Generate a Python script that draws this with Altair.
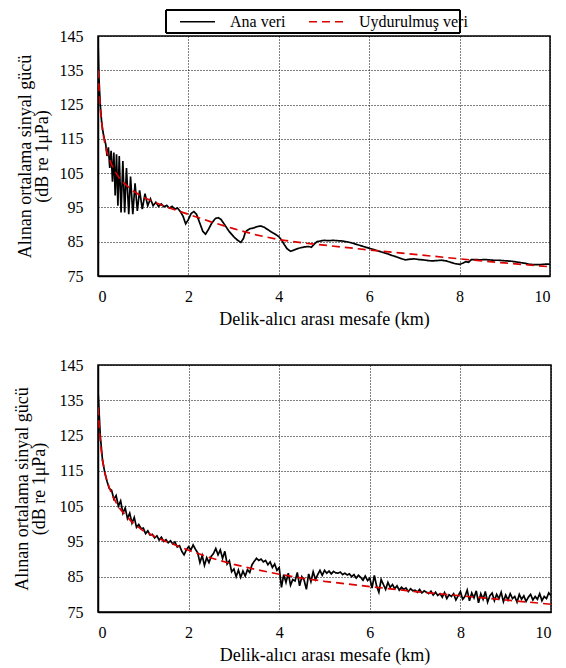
import altair as alt
import pandas as pd

SERIES = ["Ana veri", "Uydurulmuş veri"]
X_TITLE = "Delik-alıcı arası mesafe (km)"
Y_TITLE = ["Alınan ortalama sinyal gücü", "(dB re 1μPa)"]
X_TICKS = [0, 2, 4, 6, 8, 10]
Y_TICKS = [75, 85, 95, 105, 115, 125, 135, 145]

# ---------------- top panel ----------------
top_main_x = [0.00, 0.02, 0.05, 0.08, 0.11, 0.14, 0.17, 0.20, 0.23, 0.26, 0.29, 0.32, 0.35, 0.38,
              0.41, 0.44, 0.47, 0.51, 0.55, 0.59, 0.63, 0.68, 0.72, 0.77, 0.82, 0.87, 0.92, 0.98,
              1.04, 1.10, 1.16, 1.22, 1.28, 1.34, 1.40, 1.46, 1.52, 1.58, 1.64, 1.70, 1.76, 1.82,
              1.88, 1.94, 2.00, 2.06, 2.12, 2.18, 2.25, 2.32, 2.38, 2.44, 2.52, 2.60, 2.66, 2.72,
              2.80, 2.90, 3.00, 3.08, 3.16, 3.22, 3.26, 3.30, 3.36, 3.44, 3.52, 3.60, 3.68, 3.76,
              3.84, 3.92, 4.00, 4.06, 4.12, 4.18, 4.26, 4.34, 4.42, 4.50, 4.58, 4.66, 4.72, 4.78,
              4.84, 4.92, 5.00, 5.10, 5.20, 5.30, 5.40, 5.50, 5.60, 5.70, 5.80, 5.90, 6.00, 6.10,
              6.20, 6.30, 6.40, 6.50, 6.60, 6.70, 6.80, 6.90, 7.00, 7.10, 7.20, 7.30, 7.40, 7.50,
              7.60, 7.70, 7.80, 7.90, 8.00, 8.08, 8.14, 8.20, 8.26, 8.35, 8.45, 8.55, 8.65, 8.75,
              8.85, 8.95, 9.05, 9.15, 9.25, 9.35, 9.45, 9.55, 9.65, 9.75, 9.85, 9.95, 10.00]
top_main_y = [144.0, 133.0, 125.0, 120.0, 117.0, 115.0, 113.5, 110.0, 112.5, 106.5, 111.5, 102.5, 111.0, 98.5,
              110.5, 95.5, 110.0, 93.5, 108.5, 93.5, 106.5, 93.0, 104.0, 93.0, 102.0, 94.0, 100.0, 94.5,
              99.0, 95.5, 97.5, 95.5, 96.5, 95.3, 96.0, 95.2, 95.6, 94.8, 95.3, 94.5, 94.8, 93.8,
              92.5, 90.2, 91.5, 93.2, 93.8, 93.0, 90.5, 88.0, 87.2, 88.5, 90.5, 91.8, 92.0, 91.5,
              90.0, 88.0, 86.5, 85.5, 84.8, 86.0, 87.8, 88.3, 88.8, 89.0, 89.4, 89.6, 89.2, 88.5,
              87.8, 87.2, 86.5, 85.5, 84.2, 83.0, 82.2, 82.6, 83.0, 83.3, 83.5, 83.6, 83.4, 84.2,
              85.0, 85.2, 85.4, 85.3, 85.4, 85.3, 85.2, 85.0, 84.7, 84.3, 83.9, 83.5, 83.1, 82.7,
              82.3, 81.9, 81.5, 81.0, 80.6, 80.1, 79.7, 79.9, 80.0, 79.8, 79.7, 79.5, 79.4, 79.5,
              79.6, 79.4, 79.0, 78.6, 78.4, 78.8, 79.2, 79.0, 79.8, 79.8, 79.7, 79.8, 79.7, 79.6,
              79.6, 79.5, 79.4, 79.3, 79.1, 78.9, 78.7, 78.4, 78.3, 78.3, 78.4, 78.5, 78.4]

top_fit_x = [0.00, 0.03, 0.06, 0.10, 0.15, 0.20, 0.30, 0.40, 0.50, 0.75, 1.00, 1.25, 1.50, 2.00,
             2.50, 3.00, 3.50, 4.00, 4.50, 5.00, 6.00, 7.00, 8.00, 9.00, 10.00]
top_fit_y = [135.0, 128.0, 122.5, 117.5, 113.8, 111.0, 107.5, 105.0, 103.0, 100.0, 98.0, 96.5, 95.2, 93.0,
             90.8, 88.8, 87.0, 85.6, 84.7, 84.0, 82.6, 81.3, 80.0, 78.8, 77.7]

# ---------------- bottom panel ----------------
bot_main_x = [round(i * 0.05, 2) for i in range(201)]
bot_main_y = [
    138.0, 125.0, 118.0, 114.5, 112.0, 110.0, 109.5, 107.0, 108.0, 105.0,
    106.5, 103.0, 104.5, 101.5, 103.0, 100.2, 101.8, 99.0, 99.8, 98.6,
    98.8, 97.2, 98.0, 96.8, 97.0, 96.0, 96.6, 95.4, 96.2, 95.0,
    95.5, 94.6, 95.2, 94.3, 94.8, 93.4, 93.8, 92.2, 91.2, 92.6,
    93.5, 92.6, 94.0, 92.8, 91.8, 89.0, 91.0, 88.2, 90.4, 89.0,
    90.8, 91.6, 93.0, 91.2, 92.6, 90.2, 92.2, 88.6, 89.5, 86.4,
    87.2, 85.0, 86.9, 84.8, 86.6, 85.2, 87.0, 86.2, 88.4, 89.4,
    90.2, 89.6, 90.0, 89.2, 89.6, 88.4, 89.2, 87.6, 88.6, 86.8,
    87.6, 82.0, 85.6, 83.4, 86.0, 82.6, 84.2, 83.8, 86.2, 82.4,
    85.0, 84.0, 81.4, 85.8, 83.6, 86.4, 84.2, 85.6, 86.8, 85.4,
    86.8, 86.0, 86.6, 85.8, 86.5, 86.1, 86.0, 86.3, 85.6, 86.0,
    85.5, 85.8, 85.0, 85.6, 84.6, 85.4, 84.8, 84.0, 85.2, 83.9,
    84.6, 81.8, 85.4, 82.4, 80.6, 84.2, 82.8, 81.4, 83.4, 82.0,
    82.8, 81.6, 82.4, 81.2, 82.0, 81.4, 81.8, 80.8, 81.6, 81.0,
    81.2, 80.6, 81.4, 80.4, 81.0, 80.6, 80.2, 80.9, 79.8, 80.6,
    79.7, 80.2, 79.2, 80.5, 78.8, 79.9, 79.4, 80.2, 78.4, 79.6,
    80.8, 78.6, 79.4, 81.2, 78.2, 80.4, 79.0, 81.0, 77.6, 80.2,
    78.6, 80.8, 77.8, 79.6, 80.4, 78.2, 80.0, 78.8, 80.6, 77.9,
    79.8, 78.4, 80.2, 78.8, 79.4, 77.8, 80.0, 78.6, 79.6, 78.0,
    79.2, 80.0, 78.4, 79.4, 78.6, 80.2, 78.2, 79.4, 78.8, 80.4,
    79.6]

bot_fit_x = [0.00, 0.03, 0.06, 0.10, 0.15, 0.20, 0.30, 0.40, 0.50, 0.75, 1.00, 1.25, 1.50, 2.00,
             2.50, 3.00, 3.50, 4.00, 4.50, 5.00, 6.00, 7.00, 8.00, 9.00, 10.00]
bot_fit_y = [133.0, 127.0, 122.0, 118.0, 114.5, 112.0, 108.5, 106.0, 104.0, 100.5, 98.0, 96.4, 95.0, 92.5,
             90.3, 88.5, 87.0, 85.7, 84.6, 83.7, 82.2, 80.8, 79.6, 78.4, 77.2]


def frame(mx, my, fx, fy):
    a = pd.DataFrame({"x": mx, "y": my, "series": SERIES[0]})
    b = pd.DataFrame({"x": fx, "y": fy, "series": SERIES[1]})
    return pd.concat([a, b], ignore_index=True)


FONT = "Liberation Serif, Times New Roman, serif"
xscale = alt.Scale(domain=[0, 10], nice=False, zero=False)
yscale = alt.Scale(domain=[75, 145], nice=False, zero=False)
cscale = alt.Scale(domain=SERIES, range=["#000000", "#dd0000"])
dscale = alt.Scale(domain=SERIES, range=[[1, 0], [8, 5]])

legend_top = alt.Legend(
    title=None, orient="none", legendX=82, legendY=-23, direction="horizontal",
    symbolType="M-2.333,0H2.333", symbolSize=225, symbolStrokeWidth=1.5, symbolOffset=9,
    labelFont=FONT, labelFontSize=16, labelColor="black", labelOffset=24,
    padding=0, columnPadding=20,
)


def axes(title_pad):
    common = dict(
        labelFont=FONT, titleFont=FONT, labelFontSize=16, titleFontSize=18,
        labelColor="black", titleColor="black", titleFontWeight="normal", labelFontWeight="normal",
        ticks=False, tickSize=0, domainColor="black", domainWidth=1.5,
        grid=True, gridColor="black", gridDash=[1, 2], gridWidth=1, gridOpacity=1,
    )
    xax = alt.Axis(values=X_TICKS, title=X_TITLE, labelPadding=12, titlePadding=6, **common)
    yax = alt.Axis(values=Y_TICKS, title=Y_TITLE, labelPadding=15, titlePadding=title_pad,
                   titleLineHeight=17, **common)
    return xax, yax


def panel(df, w, h, legend, title_pad, extra_left=None, legend_box=False):
    xax, yax = axes(title_pad)
    line = alt.Chart(df).mark_line(strokeWidth=1.7, clip=True).encode(
        x=alt.X("x:Q", scale=xscale, axis=xax),
        y=alt.Y("y:Q", scale=yscale, axis=yax),
        color=alt.Color("series:N", scale=cscale, legend=legend),
        strokeDash=alt.StrokeDash("series:N", scale=dscale, legend=legend),
    )
    layers = [line]
    if legend_box:
        box = alt.Chart(df).mark_rect(fill=None, stroke="black", strokeWidth=1).encode(
            x=alt.value(68), x2=alt.value(362), y=alt.value(-26), y2=alt.value(-3))
        layers.append(box)
    if extra_left is not None:
        ghost = alt.Chart(df).mark_rule(color="white", strokeWidth=1).encode(
            x=alt.value(extra_left), y=alt.value(0), y2=alt.value(2))
        layers.append(ghost)
    return alt.layer(*layers).properties(width=w, height=h)


top = panel(frame(top_main_x, top_main_y, top_fit_x, top_fit_y), 452, 240, legend_top, 8,
            extra_left=-88, legend_box=True)
bottom = panel(frame(bot_main_x, bot_main_y, bot_fit_x, bot_fit_y), 453, 247, None, 11)

chart = alt.vconcat(top, bottom, spacing=27).resolve_scale(
    color="independent", strokeDash="independent"
).properties(padding={"left": 0, "top": 0, "right": 0, "bottom": 0}).configure_view(
    stroke="black", strokeWidth=1.5
)

chart.save("out.html", embed_options={"renderer": "svg", "actions": False})
